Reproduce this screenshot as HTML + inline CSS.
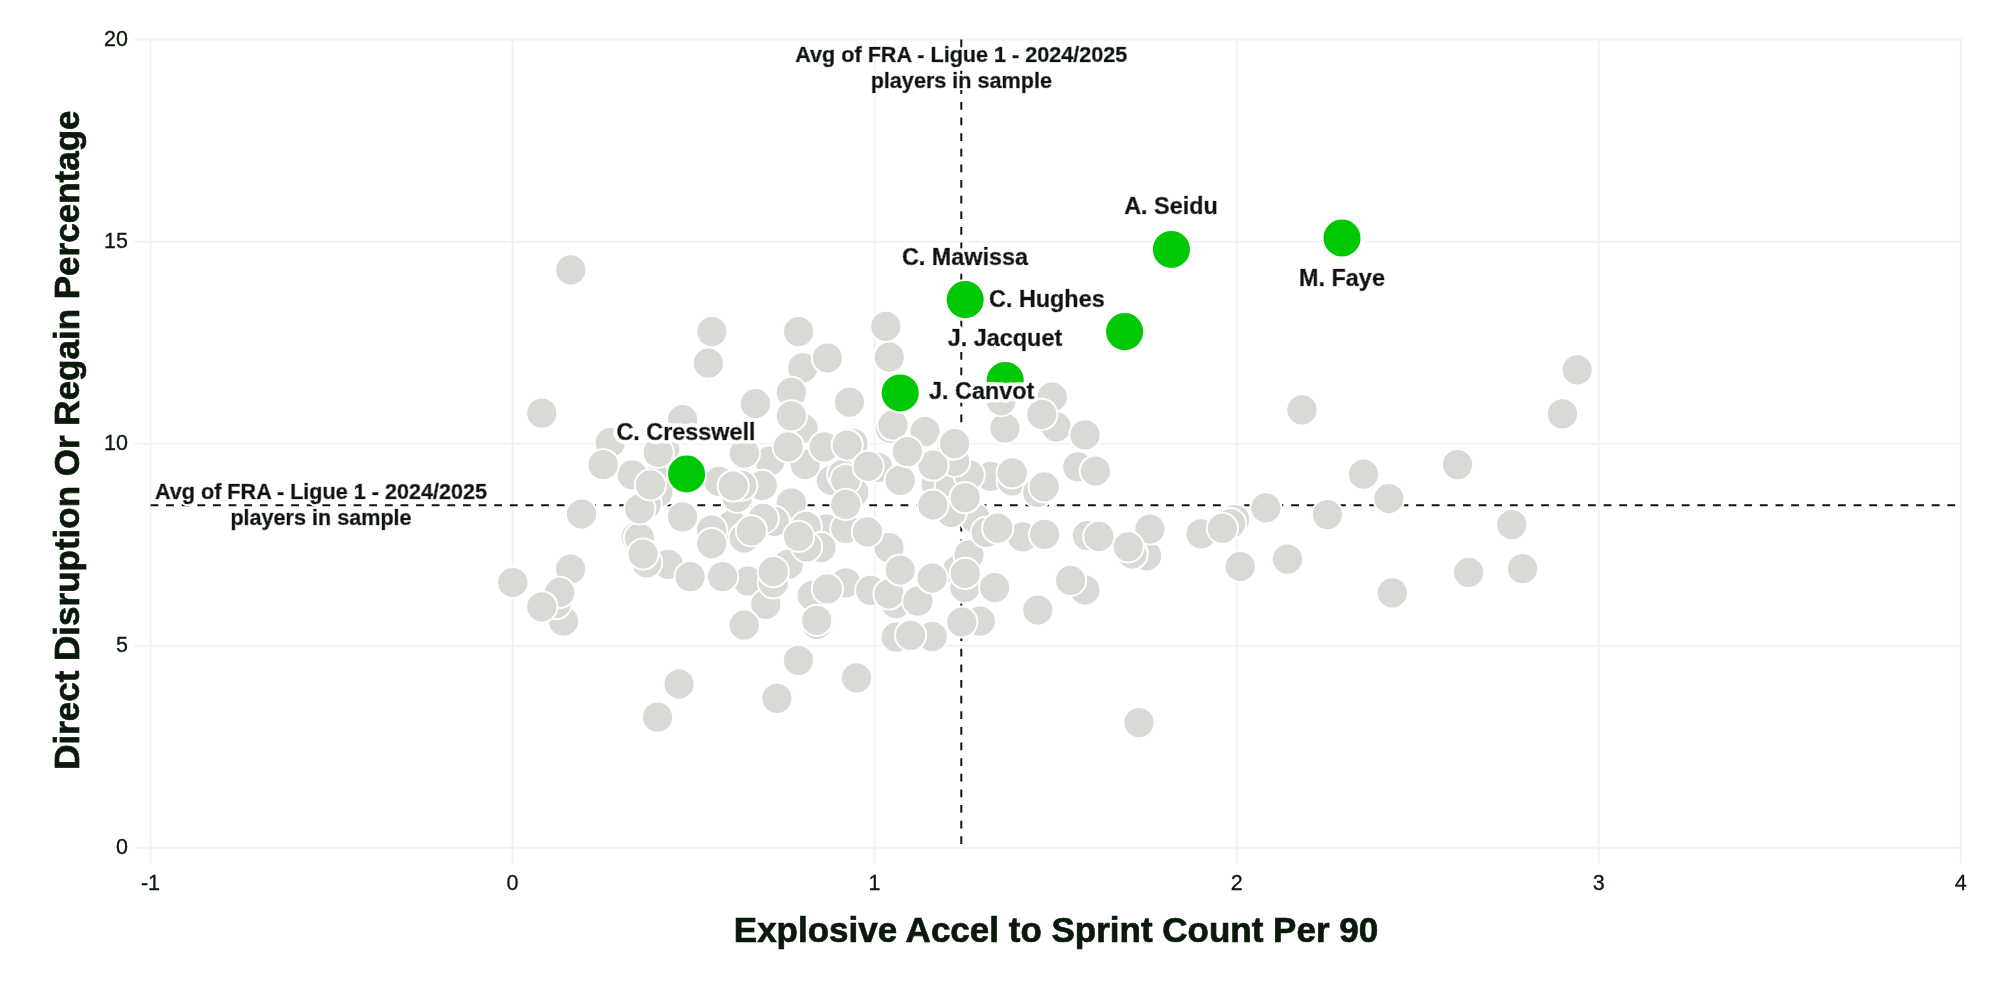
<!DOCTYPE html><html><head><meta charset="utf-8"><title>chart</title><style>html,body{margin:0;padding:0;background:#fff}svg{display:block}text{font-family:"Liberation Sans",Arial,Helvetica,sans-serif;fill:#0a190a}.b{font-weight:bold}.h{filter:url(#halo);stroke:#0a190a;stroke-width:.7px}.t{stroke:#0a190a;stroke-width:.7px}</style></head><body>
<svg width="2000" height="1000" viewBox="0 0 2000 1000">
<defs><filter id="halo" x="-15%" y="-60%" width="130%" height="220%"><feGaussianBlur in="SourceAlpha" stdDeviation="2.6" result="b"/><feComponentTransfer in="b" result="m"><feFuncA type="linear" slope="20" intercept="-0.5"/></feComponentTransfer><feFlood flood-color="#fff"/><feComposite in2="m" operator="in" result="w"/><feMerge><feMergeNode in="w"/><feMergeNode in="SourceGraphic"/></feMerge></filter><filter id="halo2" x="-5%" y="-30%" width="110%" height="160%"><feGaussianBlur in="SourceAlpha" stdDeviation="1.1" result="b"/><feComponentTransfer in="b" result="m"><feFuncA type="linear" slope="20" intercept="-0.5"/></feComponentTransfer><feFlood flood-color="#fff"/><feComposite in2="m" operator="in" result="w"/><feMerge><feMergeNode in="w"/><feMergeNode in="SourceGraphic"/></feMerge></filter></defs>
<g style="filter:blur(0.55px)">
<rect x="-10" y="-10" width="2020" height="1020" fill="#fff"/>
<g stroke="#f2f2f2" stroke-width="1.95" fill="none">
<line x1="150.5" y1="39.5" x2="150.5" y2="863.2"/>
<line x1="512.6" y1="39.5" x2="512.6" y2="863.2"/>
<line x1="874.6" y1="39.5" x2="874.6" y2="863.2"/>
<line x1="1236.7" y1="39.5" x2="1236.7" y2="863.2"/>
<line x1="1598.7" y1="39.5" x2="1598.7" y2="863.2"/>
<line x1="1960.8" y1="39.5" x2="1960.8" y2="863.2"/>
<line x1="134.4" y1="847.7" x2="1961.8" y2="847.7"/>
<line x1="134.4" y1="645.7" x2="1961.8" y2="645.7"/>
<line x1="134.4" y1="443.6" x2="1961.8" y2="443.6"/>
<line x1="134.4" y1="241.6" x2="1961.8" y2="241.6"/>
<line x1="134.4" y1="39.5" x2="1961.8" y2="39.5"/>
</g>
<g font-size="21.5" stroke="#0a190a" stroke-width="0.3">
<text x="150.5" y="889.6" text-anchor="middle">-1</text>
<text x="512.6" y="889.6" text-anchor="middle">0</text>
<text x="874.6" y="889.6" text-anchor="middle">1</text>
<text x="1236.7" y="889.6" text-anchor="middle">2</text>
<text x="1598.7" y="889.6" text-anchor="middle">3</text>
<text x="1960.8" y="889.6" text-anchor="middle">4</text>
<text x="128" y="853.9" text-anchor="end">0</text>
<text x="128" y="651.9" text-anchor="end">5</text>
<text x="128" y="449.8" text-anchor="end">10</text>
<text x="128" y="247.8" text-anchor="end">15</text>
<text x="128" y="45.7" text-anchor="end">20</text>
</g>
<g stroke="#0a190a" stroke-width="2" stroke-dasharray="7.8125 7.8125" fill="none">
<line x1="150.5" y1="505.3" x2="1961.8" y2="505.3"/>
<line x1="961.3" y1="39.4" x2="961.3" y2="847.7"/>
</g>
<g fill="#d9d9d6" stroke="#fff" stroke-width="1.95">
<circle cx="657.2" cy="479.9" r="15.6"/>
<circle cx="732.2" cy="524.9" r="15.6"/>
<circle cx="826.6" cy="529.2" r="15.6"/>
<circle cx="668.2" cy="564.4" r="15.6"/>
<circle cx="748.2" cy="581.2" r="15.6"/>
<circle cx="831.4" cy="480.4" r="15.6"/>
<circle cx="975.2" cy="518.4" r="15.6"/>
<circle cx="957.2" cy="570.4" r="15.6"/>
<circle cx="1146.6" cy="555.9" r="15.6"/>
<circle cx="570.7" cy="269.9" r="15.6"/>
<circle cx="711.9" cy="331.6" r="15.6"/>
<circle cx="708.4" cy="363.1" r="15.6"/>
<circle cx="798.6" cy="331.6" r="15.6"/>
<circle cx="802.6" cy="367.9" r="15.6"/>
<circle cx="885.8" cy="326.4" r="15.6"/>
<circle cx="889.3" cy="357.2" r="15.6"/>
<circle cx="541.8" cy="413.2" r="15.6"/>
<circle cx="755.4" cy="403.7" r="15.6"/>
<circle cx="849.4" cy="402.2" r="15.6"/>
<circle cx="791.4" cy="392.4" r="15.6"/>
<circle cx="803.0" cy="428.4" r="15.6"/>
<circle cx="682.6" cy="419.7" r="15.6"/>
<circle cx="610.2" cy="442.7" r="15.6"/>
<circle cx="664.7" cy="449.4" r="15.6"/>
<circle cx="632.2" cy="474.8" r="15.6"/>
<circle cx="657.7" cy="492.4" r="15.6"/>
<circle cx="646.2" cy="504.4" r="15.6"/>
<circle cx="581.5" cy="514.0" r="15.6"/>
<circle cx="682.6" cy="516.8" r="15.6"/>
<circle cx="718.9" cy="481.4" r="15.6"/>
<circle cx="737.4" cy="497.4" r="15.6"/>
<circle cx="744.5" cy="455.9" r="15.6"/>
<circle cx="769.8" cy="460.9" r="15.6"/>
<circle cx="762.2" cy="485.4" r="15.6"/>
<circle cx="805.2" cy="464.4" r="15.6"/>
<circle cx="853.0" cy="443.4" r="15.6"/>
<circle cx="842.7" cy="474.4" r="15.6"/>
<circle cx="853.8" cy="492.4" r="15.6"/>
<circle cx="877.7" cy="467.4" r="15.6"/>
<circle cx="791.4" cy="502.8" r="15.6"/>
<circle cx="890.4" cy="428.4" r="15.6"/>
<circle cx="925.0" cy="431.6" r="15.6"/>
<circle cx="900.2" cy="480.4" r="15.6"/>
<circle cx="936.2" cy="484.4" r="15.6"/>
<circle cx="950.2" cy="487.4" r="15.6"/>
<circle cx="951.2" cy="512.4" r="15.6"/>
<circle cx="990.7" cy="476.4" r="15.6"/>
<circle cx="1012.2" cy="480.9" r="15.6"/>
<circle cx="1037.8" cy="492.4" r="15.6"/>
<circle cx="1005.0" cy="428.1" r="15.6"/>
<circle cx="1001.2" cy="400.6" r="15.6"/>
<circle cx="1052.2" cy="397.2" r="15.6"/>
<circle cx="1056.2" cy="426.8" r="15.6"/>
<circle cx="1085.0" cy="434.9" r="15.6"/>
<circle cx="1077.8" cy="466.8" r="15.6"/>
<circle cx="711.7" cy="530.0" r="15.6"/>
<circle cx="744.2" cy="538.0" r="15.6"/>
<circle cx="774.2" cy="521.4" r="15.6"/>
<circle cx="806.2" cy="526.4" r="15.6"/>
<circle cx="821.0" cy="547.6" r="15.6"/>
<circle cx="845.8" cy="528.4" r="15.6"/>
<circle cx="889.0" cy="547.6" r="15.6"/>
<circle cx="636.2" cy="537.2" r="15.6"/>
<circle cx="646.6" cy="562.8" r="15.6"/>
<circle cx="722.6" cy="576.7" r="15.6"/>
<circle cx="788.2" cy="564.4" r="15.6"/>
<circle cx="765.8" cy="604.4" r="15.6"/>
<circle cx="744.2" cy="625.2" r="15.6"/>
<circle cx="512.7" cy="582.5" r="15.6"/>
<circle cx="570.6" cy="569.2" r="15.6"/>
<circle cx="563.4" cy="621.2" r="15.6"/>
<circle cx="812.2" cy="595.6" r="15.6"/>
<circle cx="845.8" cy="582.8" r="15.6"/>
<circle cx="816.7" cy="624.4" r="15.6"/>
<circle cx="870.6" cy="590.4" r="15.6"/>
<circle cx="896.2" cy="603.6" r="15.6"/>
<circle cx="969.0" cy="554.8" r="15.6"/>
<circle cx="965.0" cy="587.6" r="15.6"/>
<circle cx="994.6" cy="587.6" r="15.6"/>
<circle cx="980.2" cy="621.2" r="15.6"/>
<circle cx="896.2" cy="637.2" r="15.6"/>
<circle cx="932.2" cy="636.7" r="15.6"/>
<circle cx="1037.8" cy="610.0" r="15.6"/>
<circle cx="1085.0" cy="590.0" r="15.6"/>
<circle cx="986.2" cy="532.4" r="15.6"/>
<circle cx="1022.7" cy="536.9" r="15.6"/>
<circle cx="1087.4" cy="535.6" r="15.6"/>
<circle cx="1149.9" cy="529.0" r="15.6"/>
<circle cx="1201.0" cy="533.8" r="15.6"/>
<circle cx="1234.6" cy="519.6" r="15.6"/>
<circle cx="1265.8" cy="507.9" r="15.6"/>
<circle cx="1240.2" cy="566.5" r="15.6"/>
<circle cx="1287.5" cy="559.2" r="15.6"/>
<circle cx="1302.0" cy="409.9" r="15.6"/>
<circle cx="1327.4" cy="514.6" r="15.6"/>
<circle cx="1363.5" cy="474.2" r="15.6"/>
<circle cx="1388.9" cy="498.5" r="15.6"/>
<circle cx="1392.3" cy="592.9" r="15.6"/>
<circle cx="1457.5" cy="464.6" r="15.6"/>
<circle cx="1468.6" cy="572.3" r="15.6"/>
<circle cx="1511.8" cy="524.6" r="15.6"/>
<circle cx="1522.6" cy="568.7" r="15.6"/>
<circle cx="1562.5" cy="413.9" r="15.6"/>
<circle cx="1577.2" cy="369.8" r="15.6"/>
<circle cx="679.1" cy="684.0" r="15.6"/>
<circle cx="657.5" cy="717.2" r="15.6"/>
<circle cx="798.5" cy="660.3" r="15.6"/>
<circle cx="776.9" cy="698.3" r="15.6"/>
<circle cx="856.5" cy="677.9" r="15.6"/>
<circle cx="1139.0" cy="722.6" r="15.6"/>
<circle cx="969.2" cy="474.9" r="15.6"/>
<circle cx="763.2" cy="518.4" r="15.6"/>
<circle cx="954.7" cy="461.4" r="15.6"/>
<circle cx="827.4" cy="358.0" r="15.6"/>
<circle cx="791.4" cy="415.9" r="15.6"/>
<circle cx="603.2" cy="464.7" r="15.6"/>
<circle cx="658.2" cy="452.4" r="15.6"/>
<circle cx="741.7" cy="485.4" r="15.6"/>
<circle cx="744.4" cy="453.2" r="15.6"/>
<circle cx="824.2" cy="446.8" r="15.6"/>
<circle cx="847.2" cy="445.0" r="15.6"/>
<circle cx="845.8" cy="479.6" r="15.6"/>
<circle cx="868.2" cy="466.4" r="15.6"/>
<circle cx="893.0" cy="425.2" r="15.6"/>
<circle cx="952.2" cy="444.4" r="15.6"/>
<circle cx="933.0" cy="465.2" r="15.6"/>
<circle cx="965.2" cy="497.7" r="15.6"/>
<circle cx="932.8" cy="505.0" r="15.6"/>
<circle cx="1012.2" cy="472.9" r="15.6"/>
<circle cx="1044.2" cy="486.8" r="15.6"/>
<circle cx="1041.8" cy="414.4" r="15.6"/>
<circle cx="1095.4" cy="471.0" r="15.6"/>
<circle cx="711.7" cy="543.6" r="15.6"/>
<circle cx="751.4" cy="530.8" r="15.6"/>
<circle cx="806.6" cy="546.8" r="15.6"/>
<circle cx="867.4" cy="531.8" r="15.6"/>
<circle cx="639.4" cy="538.0" r="15.6"/>
<circle cx="690.1" cy="576.7" r="15.6"/>
<circle cx="773.3" cy="582.8" r="15.6"/>
<circle cx="556.2" cy="603.6" r="15.6"/>
<circle cx="827.4" cy="588.9" r="15.6"/>
<circle cx="816.7" cy="620.4" r="15.6"/>
<circle cx="889.0" cy="594.0" r="15.6"/>
<circle cx="917.8" cy="601.2" r="15.6"/>
<circle cx="965.2" cy="573.4" r="15.6"/>
<circle cx="961.8" cy="622.0" r="15.6"/>
<circle cx="910.6" cy="635.3" r="15.6"/>
<circle cx="1070.6" cy="580.4" r="15.6"/>
<circle cx="997.7" cy="528.2" r="15.6"/>
<circle cx="1044.6" cy="534.4" r="15.6"/>
<circle cx="1098.8" cy="536.4" r="15.6"/>
<circle cx="1132.2" cy="554.0" r="15.6"/>
<circle cx="1230.6" cy="523.6" r="15.6"/>
<circle cx="788.2" cy="446.8" r="15.6"/>
<circle cx="639.7" cy="508.9" r="15.6"/>
<circle cx="733.2" cy="486.0" r="15.6"/>
<circle cx="845.8" cy="504.4" r="15.6"/>
<circle cx="907.4" cy="451.6" r="15.6"/>
<circle cx="954.6" cy="443.6" r="15.6"/>
<circle cx="798.6" cy="536.4" r="15.6"/>
<circle cx="643.1" cy="554.0" r="15.6"/>
<circle cx="773.3" cy="571.6" r="15.6"/>
<circle cx="559.7" cy="592.4" r="15.6"/>
<circle cx="900.2" cy="570.0" r="15.6"/>
<circle cx="932.2" cy="578.0" r="15.6"/>
<circle cx="1128.2" cy="546.8" r="15.6"/>
<circle cx="1222.4" cy="528.4" r="15.6"/>
<circle cx="650.4" cy="484.9" r="15.6"/>
<circle cx="541.8" cy="606.8" r="15.6"/>
</g>
<g fill="#00c805" stroke="#fff" stroke-width="1.95">
<circle cx="1171.4" cy="249.4" r="19.5"/>
<circle cx="1342.0" cy="238.0" r="19.5"/>
<circle cx="965.2" cy="299.6" r="19.5"/>
<circle cx="1124.6" cy="331.6" r="19.5"/>
<circle cx="1005.2" cy="380.4" r="19.5"/>
<circle cx="900.2" cy="392.9" r="19.5"/>
<circle cx="686.6" cy="474.0" r="19.5"/>
</g>
<g class="b" font-size="23.4">
<text class="h" x="1171.0" y="213.6" text-anchor="middle">A. Seidu</text>
<text class="h" x="1342.0" y="286.0" text-anchor="middle">M. Faye</text>
<text class="h" x="965.0" y="264.5" text-anchor="middle">C. Mawissa</text>
<text class="h" x="989.0" y="306.5" text-anchor="start">C. Hughes</text>
<text class="h" x="1005.0" y="345.5" text-anchor="middle">J. Jacquet</text>
<text class="h" x="929.0" y="398.5" text-anchor="start">J. Canvot</text>
<text class="h" x="686.0" y="439.5" text-anchor="middle">C. Cresswell</text>
</g>
<g class="b t" font-size="21.6" text-anchor="middle" style="filter:url(#halo2)">
<text x="961.3" y="62.0">Avg of FRA - Ligue 1 - 2024/2025</text>
<text x="961.3" y="88.0">players in sample</text>
<text x="321.0" y="499.0">Avg of FRA - Ligue 1 - 2024/2025</text>
<text x="321.0" y="525.0">players in sample</text>
</g>
<text class="b t" font-size="35" text-anchor="middle" x="1056" y="942.4">Explosive Accel to Sprint Count Per 90</text>
<text class="b t" font-size="35" text-anchor="middle" transform="translate(78.8,440.2) rotate(-90)">Direct Disruption Or Regain Percentage</text>
</g></svg></body></html>
